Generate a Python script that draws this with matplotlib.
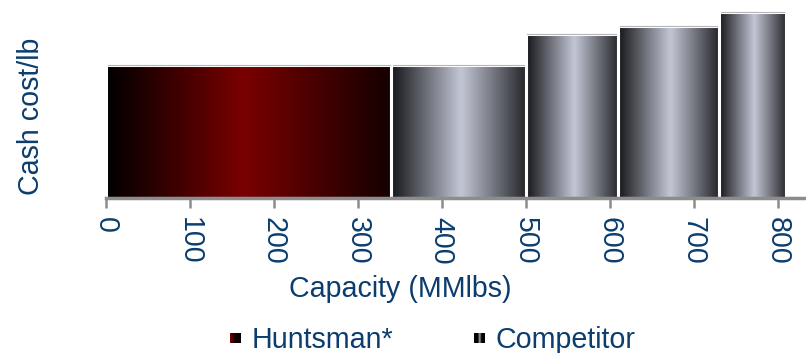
import numpy as np
import matplotlib
matplotlib.use("Agg")
import matplotlib.pyplot as plt
from matplotlib.colors import LinearSegmentedColormap
from matplotlib.patches import Rectangle
from matplotlib.legend_handler import HandlerBase

# Cost curve data: each producer's capacity (bar width) and cash cost (bar height)
producers = ["Huntsman*", "Competitor", "Competitor", "Competitor", "Competitor"]
capacity = [340, 160, 110, 120, 80]          # MMlbs
cash_cost = [0.67, 0.67, 0.826, 0.866, 0.935]  # relative cash cost per lb
x_ticks = [0, 100, 200, 300, 400, 500, 600, 700, 800]

TEXT = "#0b3d6e"
AXIS = "#8c8c8c"
plt.rcParams["font.family"] = ["Liberation Sans", "DejaVu Sans"]
plt.rcParams["font.size"] = 20.6

huntsman_cmap = LinearSegmentedColormap.from_list(
    "huntsman", [(0.0, "#000000"), (0.48, "#7a0000"), (1.0, "#140000")])
competitor_cmap = LinearSegmentedColormap.from_list(
    "competitor", [(0.0, "#15161a"), (0.52, "#c3c6d5"), (1.0, "#26272b")])
huntsman_key_cmap = LinearSegmentedColormap.from_list(
    "huntsman_key", [(0.0, "#7a0000"), (0.35, "#200000"), (1.0, "#000000")])
competitor_key_cmap = LinearSegmentedColormap.from_list(
    "competitor_key", [(0.0, "#000000"), (0.3, "#000000"), (0.5, "#9a9ca6"),
                       (0.7, "#000000"), (1.0, "#000000")])

fig = plt.figure(figsize=(8.06, 3.53), dpi=100)
ax = fig.add_axes([106 / 806, (353 - 198) / 353, 700 / 806, 189 / 353])

lefts = np.concatenate([[0], np.cumsum(capacity)[:-1]])
bars = ax.bar(lefts, cash_cost, width=capacity, align="edge",
              facecolor="none", edgecolor="white", linewidth=2.2, zorder=3)

gradient = np.linspace(0, 1, 256).reshape(1, -1)
for bar, name in zip(bars, producers):
    cmap = huntsman_cmap if name.startswith("Huntsman") else competitor_cmap
    x0, w, h = bar.get_x(), bar.get_width(), bar.get_height()
    im = ax.imshow(gradient, extent=[x0, x0 + w, 0, h], aspect="auto",
                   cmap=cmap, interpolation="bicubic", zorder=2)
    im.set_clip_path(bar)
    # faint highlight along the top edge
    ax.plot([x0 + 2, x0 + w - 2], [h, h], color="#b5b5b5", lw=0.8, zorder=4)

ax.set_xlim(0, 833.7)
ax.set_ylim(0, 0.95)
ax.set_xticks(x_ticks)
ax.set_xticklabels([str(t) for t in x_ticks], rotation=270, color=TEXT)
ax.set_yticks([])
for side in ("left", "top", "right"):
    ax.spines[side].set_visible(False)
ax.spines["bottom"].set_color(AXIS)
ax.spines["bottom"].set_linewidth(2.5)
ax.spines["bottom"].set_zorder(5)
ax.tick_params(axis="x", direction="out", length=7, width=1.8, color=AXIS, pad=7)

ax.set_xlabel("Capacity (MMlbs)", color=TEXT)
ax.xaxis.set_label_coords(0.421, -0.41)
ax.set_ylabel("Cash cost/lb", color=TEXT)
ax.yaxis.set_label_coords(-0.087, 0.434)


class GradientSwatch(HandlerBase):
    """Legend key drawn as a small horizontally shaded square."""

    def __init__(self, cmap, n=20):
        super().__init__()
        self.cmap = cmap
        self.n = n

    def create_artists(self, legend, orig_handle, xdescent, ydescent,
                       width, height, fontsize, trans):
        side = min(width, height)
        x0 = -xdescent + (width - side) / 2
        y0 = -ydescent + (height - side) / 2
        step = side / self.n
        return [Rectangle((x0 + i * step, y0), step * 1.05, side,
                          facecolor=self.cmap((i + 0.5) / self.n),
                          edgecolor="none", transform=trans)
                for i in range(self.n)]


h_key = Rectangle((0, 0), 1, 1)
c_key = Rectangle((0, 0), 1, 1)
fig.legend([h_key, c_key], ["Huntsman*", "Competitor"],
           handler_map={h_key: GradientSwatch(huntsman_key_cmap),
                        c_key: GradientSwatch(competitor_key_cmap)},
           loc="lower center", bbox_to_anchor=(0.537, -0.077), ncol=2,
           frameon=False, handlelength=0.37, handleheight=0.37,
           handletextpad=0.36, columnspacing=2.85, labelcolor=TEXT)

fig.savefig("out.png", dpi=100)
